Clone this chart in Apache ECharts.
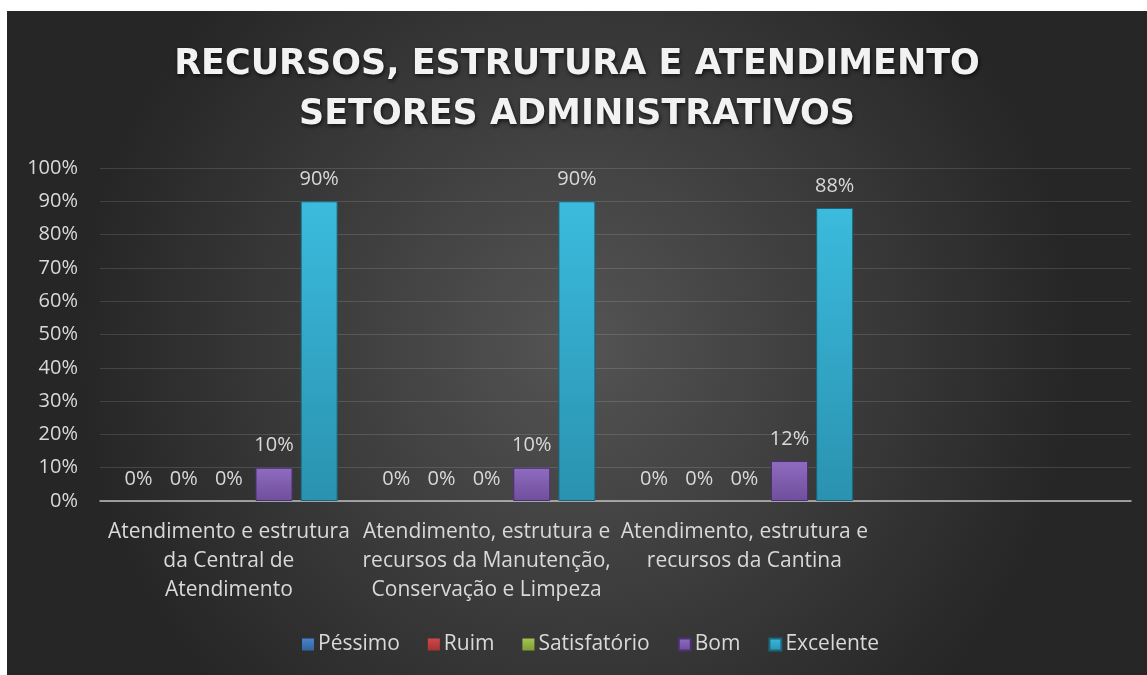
<!DOCTYPE html>
<html>
<head>
<meta charset="utf-8">
<script src="https://cdn.jsdelivr.net/npm/echarts@6/dist/echarts.min.js"></script>
<style>
  html, body { margin: 0; padding: 0; background: #ffffff; }
  #chart { position: absolute; left: 7px; top: 11px; width: 1140px; height: 664px; }
</style>
</head>
<body>
<div id="chart"></div>
<script>
const categories = [
  'Atendimento e estrutura\nda Central de\nAtendimento',
  'Atendimento, estrutura e\nrecursos da Manutenção,\nConservação e Limpeza',
  'Atendimento, estrutura e\nrecursos da Cantina',
  ''
]
const seriesNames = ['Péssimo', 'Ruim', 'Satisfatório', 'Bom', 'Excelente']
const pessimo = [0, 0, 0, null]
const ruim = [0, 0, 0, null]
const satisfatorio = [0, 0, 0, null]
const bom = [10, 10, 12, null]
const excelente = [90, 90, 88, null]
const yTicks = [0, 10, 20, 30, 40, 50, 60, 70, 80, 90, 100]

// cores tipo bisel (Excel): borda, claro, escuro
const palette = [
  ['#244a7c', '#4b82cc', '#33649f'],
  ['#7a2222', '#d04848', '#a83232'],
  ['#5a7324', '#a3c452', '#7f9d36'],
  ['#4a3170', '#8f6cc0', '#6f4e9c'],
  ['#1b6479', '#3bbbdd', '#2a92b0']
]

const bevel = (c) => new echarts.graphic.LinearGradient(0, 0, 0, 1, [
  { offset: 0, color: c[1] },
  { offset: 1, color: c[2] }
])

const font = '"Open Sans", "Noto Sans", sans-serif'
const chartInstance = echarts.init(document.getElementById('chart'))

const makeSeries = (name, data, i) => ({
  name: name,
  type: 'bar',
  data: data,
  barWidth: 37,
  barGap: '22%',
  itemStyle: {
    color: bevel(palette[i]),
    borderColor: palette[i][0],
    borderWidth: i >= 3 ? 1 : 0
  },
  label: {
    show: true,
    position: 'top',
    distance: 12,
    color: '#d9d9d9',
    fontFamily: font,
    fontSize: 20,
    formatter: (p) => (p.value == null ? '' : p.value + '%')
  }
})

const option = {
  backgroundColor: {
    type: 'radial', x: 0.5, y: 0.5, r: 0.75,
    colorStops: [
      { offset: 0, color: '#545454' },
      { offset: 1, color: '#262626' }
    ]
  },
  animation: false,
  title: {
    text: 'RECURSOS, ESTRUTURA E ATENDIMENTO\nSETORES ADMINISTRATIVOS',
    left: 'center',
    top: 24,
    textStyle: {
      color: '#f2f2f2',
      fontFamily: '"DejaVu Sans", sans-serif',
      fontWeight: 'bold',
      fontSize: 35,
      lineHeight: 50,
      textShadowColor: 'rgba(0,0,0,0.7)',
      textShadowBlur: 4,
      textShadowOffsetX: 1,
      textShadowOffsetY: 2
    }
  },
  legend: {
    data: seriesNames.map((n, i) => ({ name: n, itemStyle: { color: bevel(palette[i]) } })),
    bottom: 15,
    left: 290,
    itemWidth: 12,
    itemHeight: 12,
    itemGap: 28,
    icon: 'rect',
    textStyle: { color: '#d9d9d9', fontFamily: font, fontSize: 21, padding: [0, 0, 0, -1] }
  },
  grid: {
    left: 93,
    right: 16,
    top: 157,
    bottom: 174,
    containLabel: false
  },
  xAxis: {
    type: 'category',
    data: categories,
    axisTick: { show: false },
    axisLine: { lineStyle: { color: '#bfbfbf', width: 1.5 } },
    axisLabel: {
      color: '#d9d9d9',
      fontFamily: font,
      fontSize: 21,
      lineHeight: 29,
      margin: 17,
      interval: 0
    }
  },
  yAxis: {
    type: 'value',
    min: yTicks[0],
    max: yTicks[yTicks.length - 1],
    interval: 10,
    axisLine: { show: false },
    axisTick: { show: false },
    splitLine: { lineStyle: { color: 'rgba(255,255,255,0.13)', width: 1.2 } },
    axisLabel: {
      color: '#d9d9d9',
      fontFamily: font,
      fontSize: 20,
      margin: 22,
      formatter: (v) => v + '%'
    }
  },
  series: [
    makeSeries(seriesNames[0], pessimo, 0),
    makeSeries(seriesNames[1], ruim, 1),
    makeSeries(seriesNames[2], satisfatorio, 2),
    makeSeries(seriesNames[3], bom, 3),
    makeSeries(seriesNames[4], excelente, 4)
  ]
}

chartInstance.setOption(option)
window.addEventListener('resize', () => chartInstance.resize())
</script>
</body>
</html>
